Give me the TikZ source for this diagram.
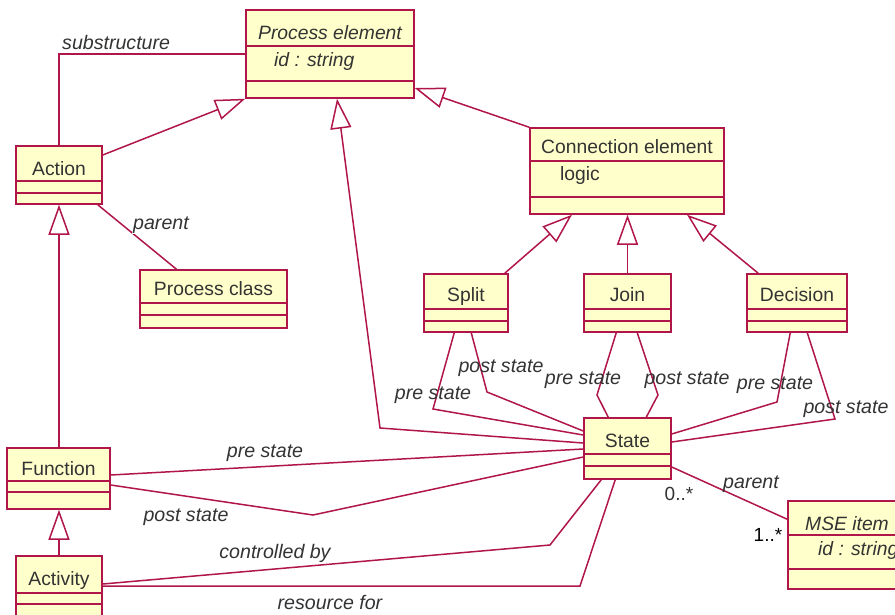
\documentclass[tikz,border=0pt]{standalone}
\usepackage{fontspec}
\setmainfont{Liberation Sans}
\usetikzlibrary{arrows.meta,fit}

\definecolor{umlred}{RGB}{176,22,74}
\definecolor{umlfill}{RGB}{255,255,204}
\definecolor{umltext}{RGB}{51,51,51}

\tikzset{
  umlline/.style={draw=umlred, line width=1.5pt},
  classbox/.style={umlline, fill=umlfill, inner sep=0pt},
  classname/.style={text=umltext, font=\fontsize{19.3}{22}\selectfont, inner sep=0pt, anchor=base},
  attrtext/.style={classname, anchor=base west},
  rolelabel/.style={text=umltext, font=\fontsize{19.6}{22}\selectfont\itshape, inner sep=0pt, anchor=base},
  coverlabel/.style={rolelabel, fill=white, inner sep=1pt},
  multlabel/.style={text=umltext, font=\fontsize{19}{22}\selectfont, inner sep=0pt, anchor=base},
  assoc/.style={umlline},
  generalize/.style={umlline, -{Triangle[open, length=30pt, width=21pt]}},
}

% class box: name, left, top, right, bottom, first divider, second divider, name baseline, name text
\newcommand\umlclass[9]{%
  \node[classbox, fit={(#2,#3) (#4,#5)}] (#1) {};
  \draw[umlline] (#2,#6) -- (#4,#6) (#2,#7) -- (#4,#7);
  \node[classname] (#1-name) at ({(#2+#4)/2},#8) {#9};
}

\begin{document}
\begin{tikzpicture}[x=1pt, y=-1pt]
  \useasboundingbox (0,0) rectangle (895,614);
  \clip (0,0) rectangle (895,614);

  % classes
  \umlclass{pe}{246}{10}{414}{98}{46}{81}{39}{\itshape Process element}
  \node[attrtext] (pe-attr) at (274,66) {\itshape id : string};
  \umlclass{act}{16}{146}{102}{204}{181}{193}{175}{Action}
  \umlclass{ce}{530}{128}{724}{214}{161}{197}{153}{Connection element}
  \node[attrtext] (ce-attr) at (560,180) {logic};
  \umlclass{pc}{140}{270}{287}{328}{303}{315}{295}{Process class}
  \umlclass{split}{424}{274}{508}{332}{309}{321}{301}{Split}
  \umlclass{join}{584}{274}{671}{332}{309}{321}{301}{Join}
  \umlclass{dec}{747}{274}{847}{332}{309}{321}{301}{Decision}
  \umlclass{st}{584}{418}{671}{479}{454}{466}{447}{State}
  \umlclass{fn}{7}{448}{110}{509}{481}{492}{475}{Function}
  \umlclass{actv}{16}{556}{102}{630}{593}{604}{585}{Activity}
  \umlclass{mse}{788}{501}{906}{589}{535}{569}{530}{\itshape MSE item}
  \node[attrtext] (mse-attr) at (818,555) {\itshape id : string};

  % generalizations
  \draw[generalize] ([yshift=20pt]act.east) -- (pe.south west);
  \draw[generalize] (ce.north west) -- ([yshift=-34pt]pe.east);
  \draw[generalize] ([yshift=5.5pt]st.west) -- (380,428) -- ([xshift=7pt]pe.south);
  \draw[generalize] (act.south |- fn.north) -- (act.south);
  \draw[generalize] (actv.north) -- (actv.north |- fn.south);
  \draw[generalize] ([xshift=-4pt]split.north east) -- ([xshift=-55pt]ce.south);
  \draw[generalize] (join.north) -- (join.north |- ce.south);
  \draw[generalize] ([xshift=12pt]dec.north west) -- ([xshift=60pt]ce.south);

  % associations
  \draw[assoc] (act.north) |- (pe.west);
  \draw[assoc] ([xshift=-5pt]act.south east) -- ([xshift=-37pt]pc.north);
  \draw[assoc] ([xshift=31pt]split.south west) -- (433,409) -- ([yshift=13.5pt]st.west);
  \draw[assoc] ([xshift=48pt]split.south west) -- (487,392) -- ([yshift=17.5pt]st.west);
  \draw[assoc] ([xshift=33pt]join.south west) -- (597,395) -- ([xshift=25pt]st.north west);
  \draw[assoc] ([xshift=54pt]join.south west) -- (658,395) -- ([xshift=63pt]st.north west);
  \draw[assoc] ([xshift=44pt]dec.south west) -- (777,402) -- ([yshift=14.5pt]st.east);
  \draw[assoc] ([xshift=61pt]dec.south west) -- (835,419) -- ([yshift=6.5pt]st.east);
  \draw[assoc] ([yshift=3.5pt]fn.east) -- ([yshift=-0.5pt]st.west);
  \draw[assoc] ([yshift=-6.5pt]fn.east) -- (313,515) -- ([yshift=-8.5pt]st.west);
  \draw[assoc] ([yshift=9pt]actv.east) -- (550,545) -- ([xshift=18pt]st.south west);
  \draw[assoc] ([yshift=7pt]actv.east) -- (580,586) -- ([xshift=32pt]st.south west);
  \draw[assoc] ([yshift=-18.5pt]st.east) -- ([yshift=-19pt]mse.north west);

  % role names and multiplicities
  \node[rolelabel, anchor=base west] (l-sub) at (62,49) {substructure};
  \node[coverlabel, anchor=base west] (l-par1) at (132,229) {parent};
  \node[rolelabel] (l-spre) at (433,399) {pre state};
  \node[rolelabel] (l-spost) at (501,372) {post state};
  \node[rolelabel] (l-jpre) at (583,384) {pre state};
  \node[rolelabel] (l-jpost) at (687,384) {post state};
  \node[rolelabel] (l-dpre) at (775,389) {pre state};
  \node[rolelabel] (l-dpost) at (846,413) {post state};
  \node[rolelabel] (l-fpre) at (265,457) {pre state};
  \node[rolelabel] (l-fpost) at (186,521) {post state};
  \node[coverlabel] (l-ctrl) at (275,558) {controlled by};
  \node[rolelabel] (l-res) at (330,609) {resource for};
  \node[rolelabel] (l-par2) at (751,488) {parent};
  \node[multlabel] (m-st) at (679,500) {0..*};
  \node[multlabel, text=black] (m-mse) at (768,541) {1..*};
\end{tikzpicture}
\end{document}
